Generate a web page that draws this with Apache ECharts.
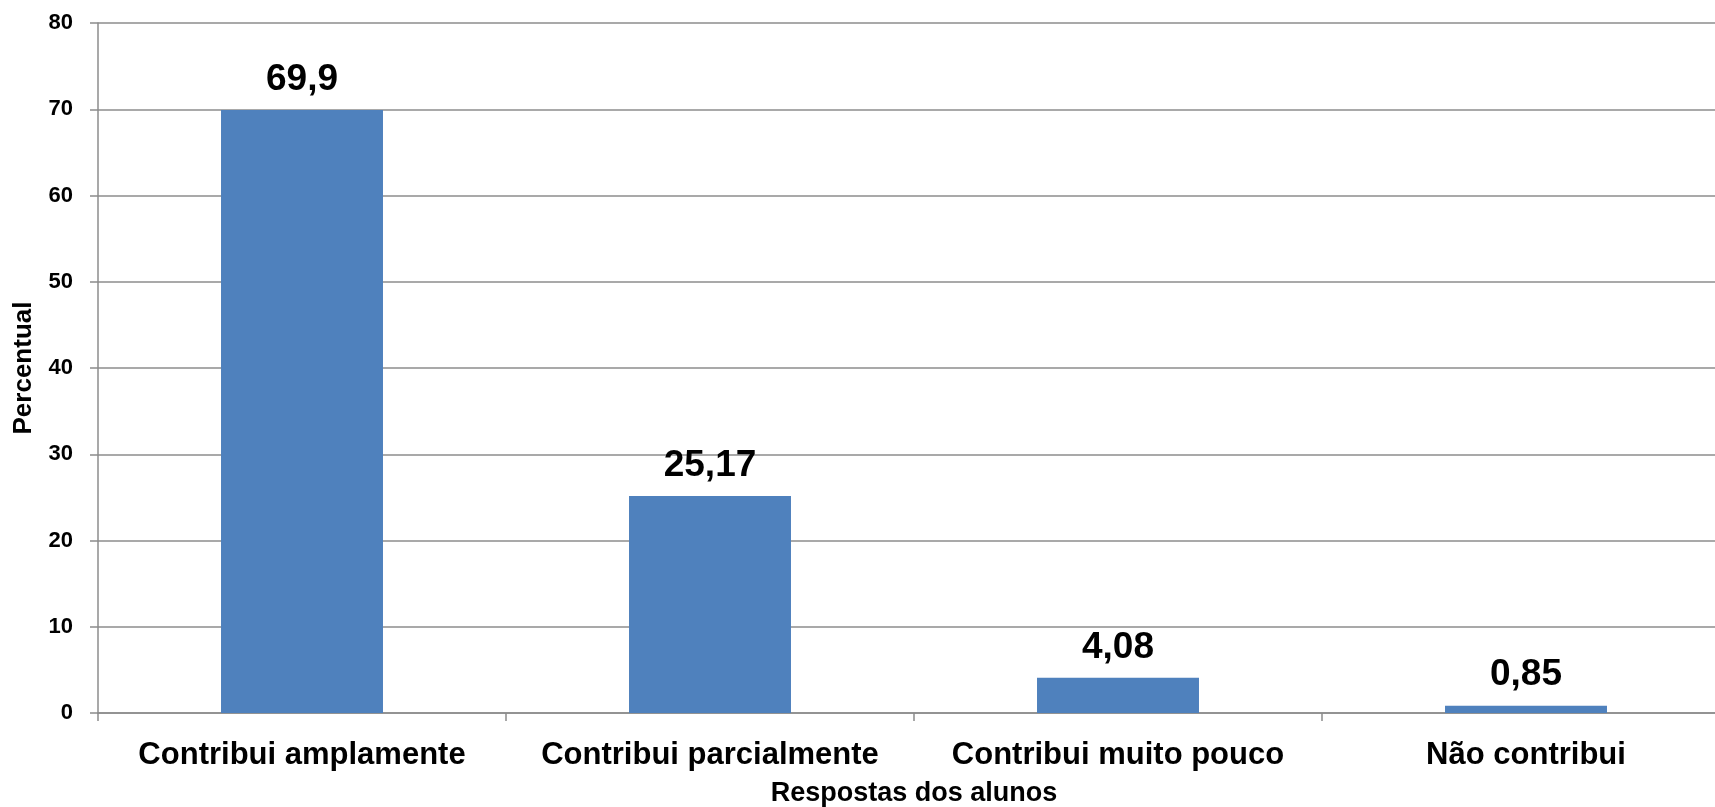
<!DOCTYPE html>
<html>
<head>
<meta charset="utf-8">
<script src="https://cdn.jsdelivr.net/npm/echarts@6/dist/echarts.min.js"></script>
<style>
  html, body { margin: 0; padding: 0; background: #fff; }
  #chart { width: 1715px; height: 807px; }
</style>
</head>
<body>
<div id="chart"></div>
<script>
var categorias = ["Contribui amplamente", "Contribui parcialmente", "Contribui muito pouco", "Não contribui"];
var percentuais = [69.9, 25.17, 4.08, 0.85];
var rotulos = ["69,9", "25,17", "4,08", "0,85"];

var fonte = '"Liberation Sans", Arial, sans-serif';
var cinza = "#8c8c8c";

var myChart = echarts.init(document.getElementById("chart"));
var option = {
    animation: false,
    grid: {
        left: 98,
        top: 23,
        width: 1632,
        height: 690,
        containLabel: false,
        outerBoundsMode: "none"
    },
    xAxis: {
        type: "category",
        data: categorias,
        name: "Respostas dos alunos",
        nameLocation: "middle",
        nameGap: 67,
        nameTextStyle: { fontFamily: fonte, fontWeight: "bold", fontSize: 27, color: "#000" },
        axisLine: { lineStyle: { color: cinza, width: 1.5 } },
        axisTick: { show: true, length: 8, lineStyle: { color: cinza, width: 1.5 } },
        axisLabel: {
            interval: 0,
            margin: 27,
            fontFamily: fonte,
            fontWeight: "bold",
            fontSize: 31,
            color: "#000"
        }
    },
    yAxis: {
        type: "value",
        min: 0,
        max: 80,
        interval: 10,
        name: "Percentual",
        nameLocation: "middle",
        nameGap: 61,
        nameRotate: 90,
        nameTextStyle: { fontFamily: fonte, fontWeight: "bold", fontSize: 26, color: "#000" },
        axisLine: { show: true, lineStyle: { color: cinza, width: 1.5 } },
        axisTick: { show: true, length: 8, lineStyle: { color: cinza, width: 1.5 } },
        axisLabel: {
            margin: 25,
            fontFamily: fonte,
            fontWeight: "bold",
            fontSize: 22,
            color: "#000"
        },
        splitLine: { show: true, lineStyle: { color: cinza, width: 1.5 } }
    },
    series: [{
        type: "bar",
        data: percentuais,
        barWidth: "39.7%",
        itemStyle: { color: "#4f81bd" },
        label: {
            show: true,
            position: "top",
            distance: 12,
            fontFamily: fonte,
            fontWeight: "bold",
            fontSize: 37,
            color: "#000",
            formatter: function(p) {
                return rotulos[p.dataIndex];
            }
        }
    }]
};
myChart.setOption(option);
</script>
</body>
</html>
